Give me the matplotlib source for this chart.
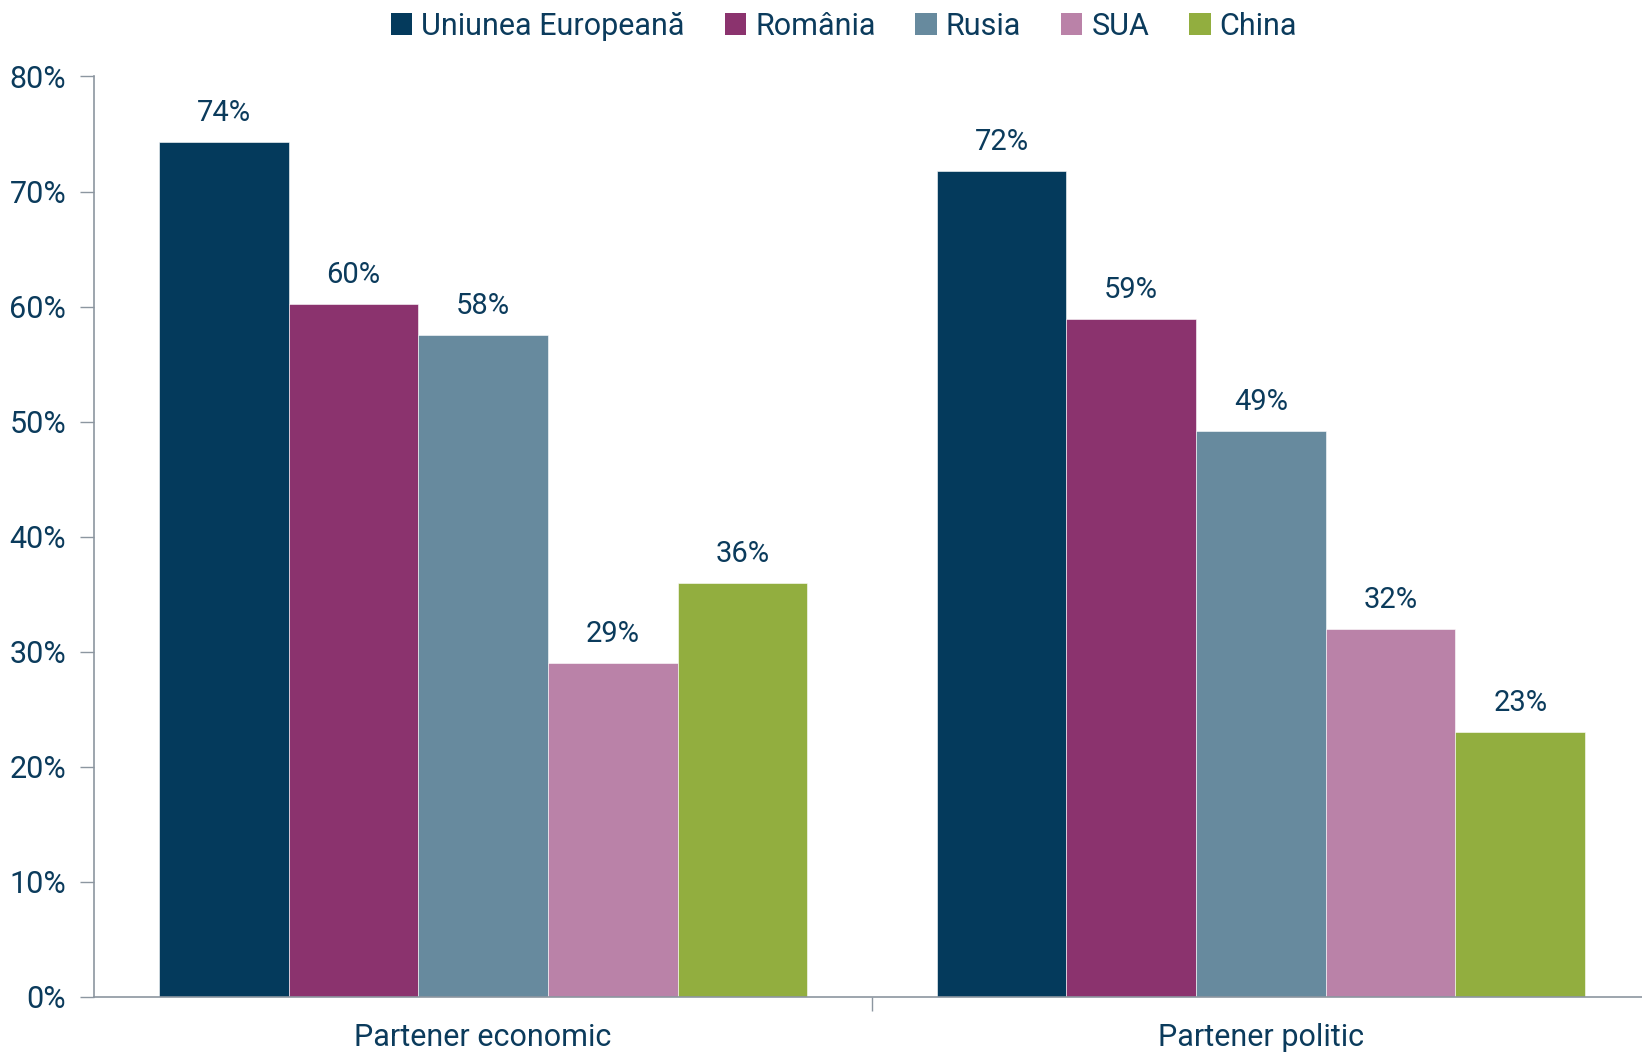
import numpy as np
import matplotlib.pyplot as plt
from matplotlib.patches import Patch

plt.rcParams['font.family'] = ['Roboto', 'DejaVu Sans']

# date
categorii = ['Partener economic', 'Partener politic']
serii = ['Uniunea Europeană', 'România', 'Rusia', 'SUA', 'China']
valori = {
    'Uniunea Europeană': [74.3, 71.8],
    'România': [60.2, 58.9],
    'Rusia': [57.5, 49.2],
    'SUA': [29.0, 32.0],
    'China': [36.0, 23.0],
}
etichete = {
    'Uniunea Europeană': ['74%', '72%'],
    'România': ['60%', '59%'],
    'Rusia': ['58%', '49%'],
    'SUA': ['29%', '32%'],
    'China': ['36%', '23%'],
}
culori = ['#043A5C', '#8B336E', '#678A9E', '#BA82A8', '#92AE3F']
text_col = '#0B3B5C'

fig = plt.figure(figsize=(16.42, 10.55), dpi=100)
ax = fig.add_axes([0.0573, 0.055, 0.9427, 0.8725])

x = np.arange(len(categorii))
w = 0.1667
for i, s in enumerate(serii):
    pos = x + (i - 2) * w
    bars = ax.bar(pos, valori[s], w, color=culori[i], edgecolor='white', linewidth=0.4)
    for b, lab in zip(bars, etichete[s]):
        ax.text(b.get_x() + b.get_width() / 2, b.get_height() + 1.3, lab,
                ha='center', va='bottom', fontsize=21, color=text_col)

ax.set_xlim(-0.5, 1.49)
ax.set_ylim(0, 80)
ax.set_yticks(range(0, 81, 10))
ax.set_yticklabels([f'{v}%' for v in range(0, 81, 10)], fontsize=22, color=text_col)
ax.set_xticks([0.5], minor=False)
ax.set_xticklabels([''])
ax.set_xticks(x, minor=True)
ax.set_xticklabels(categorii, minor=True, fontsize=22, color=text_col)
ax.tick_params(axis='x', which='minor', length=0, pad=19)
ax.tick_params(axis='x', which='major', length=10, color='#8C96A0', width=1)
ax.tick_params(axis='y', length=10, color='#8C96A0', width=1, pad=10)

for sp in ['top', 'right']:
    ax.spines[sp].set_visible(False)
for sp in ['left', 'bottom']:
    ax.spines[sp].set_color('#8C96A0')
    ax.spines[sp].set_linewidth(1.2)

handles = [Patch(facecolor=c, edgecolor='none') for c in culori]
fig.legend(handles, serii, loc='upper center', bbox_to_anchor=(0.514, 1.015), ncol=5,
           frameon=False, fontsize=22, labelcolor=text_col, handlelength=0.7,
           handleheight=0.7, handletextpad=0.3, columnspacing=1.3)

fig.savefig('out.png', dpi=100)
